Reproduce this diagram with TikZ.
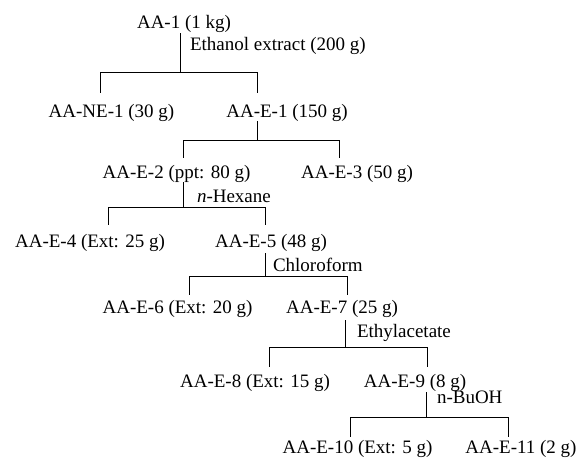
\documentclass[tikz,border=0pt]{standalone}
\usepackage{fontspec}
\setmainfont{Liberation Serif}
\begin{document}
\begin{tikzpicture}[x=1pt,y=-1pt,
  every node/.style={inner sep=0pt,outer sep=0pt,font=\fontsize{19}{22}\selectfont},
  item/.style={anchor=base},
  solvent/.style={anchor=base west},
  link/.style={line width=1pt}]
\useasboundingbox (0,0) rectangle (581,459);
% nodes
\node[item] (AA1) at (184,28) {AA-1 (1 kg)};
\node[solvent] (s1) at (190,50) {Ethanol extract (200 g)};
\node[item] (NE1) at (111.5,117) {AA-NE-1 (30 g)};
\node[item] (E1) at (287,117) {AA-E-1 (150 g)};
\node[item] (E2) at (176.5,178) {AA-E-2 (ppt: 80 g)};
\node[item] (E3) at (357,178) {AA-E-3 (50 g)};
\node[solvent] (s2) at (197,202) {\textit{n}-Hexane};
\node[item] (E4) at (90,247) {AA-E-4 (Ext: 25 g)};
\node[item] (E5) at (271,247) {AA-E-5 (48 g)};
\node[solvent] (s3) at (273,271) {Chloroform};
\node[item] (E6) at (177.5,313) {AA-E-6 (Ext: 20 g)};
\node[item] (E7) at (342,313) {AA-E-7 (25 g)};
\node[solvent] (s4) at (357,337) {Ethylacetate};
\node[item] (E8) at (255,387) {AA-E-8 (Ext: 15 g)};
\node[item] (E9) at (415,387) {AA-E-9 (8 g)};
\node[solvent] (s5) at (437,403) {n-BuOH};
\node[item] (E10) at (357.5,453) {AA-E-10 (Ext: 5 g)};
\node[item] (E11) at (521,453) {AA-E-11 (2 g)};
% junction coordinates
\coordinate (m1) at (180,72); \coordinate (l1) at (100,72); \coordinate (r1) at (257,72);
\coordinate (m2) at (257,140); \coordinate (l2) at (183,140); \coordinate (r2) at (339,140);
\coordinate (m3) at (183,207); \coordinate (l3) at (108,207); \coordinate (r3) at (265,207);
\coordinate (m4) at (265,276); \coordinate (l4) at (189,276); \coordinate (r4) at (347,276);
\coordinate (m5) at (345,347); \coordinate (l5) at (269,347); \coordinate (r5) at (427,347);
\coordinate (m6) at (426,417); \coordinate (l6) at (350,417); \coordinate (r6) at (508,417);
% connectors
\draw[link] ([yshift=-1pt]AA1.south -| m1) -- (m1);
\draw[link] ([yshift=11pt]NE1.north -| l1) -- (l1) -- (r1) -- ([yshift=11pt]E1.north -| r1);
\draw[link] (E1.south -| m2) -- (m2);
\draw[link] ([yshift=7pt]E2.north -| l2) -- (l2) -- (r2) -- ([yshift=7pt]E3.north -| r2);
\draw[link] (E2.south -| m3) -- (m3);
\draw[link] ([yshift=9pt]E4.north -| l3) -- (l3) -- (r3) -- ([yshift=9pt]E5.north -| r3);
\draw[link] ([yshift=-2pt]E5.south -| m4) -- (m4);
\draw[link] ([yshift=5pt]E6.north -| l4) -- (l4) -- (r4) -- ([yshift=5pt]E7.north -| r4);
\draw[link] ([yshift=-3pt]E7.south -| m5) -- (m5);
\draw[link] ([yshift=7pt]E8.north -| l5) -- (l5) -- (r5) -- ([yshift=7pt]E9.north -| r5);
\draw[link] ([yshift=-1pt]E9.south -| m6) -- (m6);
\draw[link] ([yshift=3pt]E10.north -| l6) -- (l6) -- (r6) -- ([yshift=3pt]E11.north -| r6);
\end{tikzpicture}
\end{document}
